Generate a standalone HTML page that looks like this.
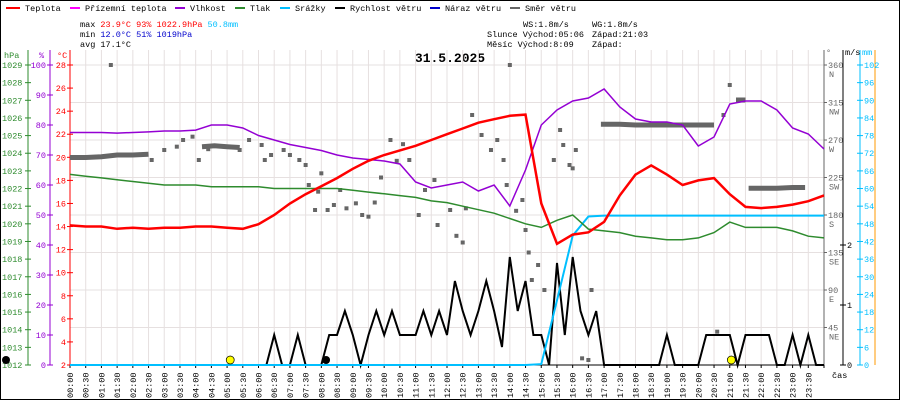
<!DOCTYPE html>
<html><head><meta charset="utf-8"><style>
html,body{margin:0;padding:0;background:#fff;}
svg{display:block;font-family:"Liberation Mono","DejaVu Sans Mono",monospace;font-size:8.5px;}
</style></head><body>
<svg id="chart" width="900" height="400" viewBox="0 0 900 400" xmlns="http://www.w3.org/2000/svg">
<rect x="0.5" y="0.5" width="899" height="399" fill="#fff" stroke="#000"/>
<g id="legend">
 <line x1="6" y1="8" x2="20" y2="8" stroke="#f00" stroke-width="2"/><text x="25" y="11">Teplota</text>
 <line x1="70" y1="8" x2="80" y2="8" stroke="#f0f" stroke-width="2"/><text x="85" y="11">Přízemní teplota</text>
 <line x1="175" y1="8" x2="185" y2="8" stroke="#9400d3" stroke-width="2"/><text x="190" y="11">Vlhkost</text>
 <line x1="235" y1="8" x2="245" y2="8" stroke="#2e8b2e" stroke-width="2"/><text x="250" y="11">Tlak</text>
 <line x1="280" y1="8" x2="290" y2="8" stroke="#00bfff" stroke-width="2"/><text x="295" y="11">Srážky</text>
 <line x1="335" y1="8" x2="345" y2="8" stroke="#000" stroke-width="2"/><text x="350" y="11">Rychlost větru</text>
 <line x1="430" y1="8" x2="440" y2="8" stroke="#00c" stroke-width="2"/><text x="445" y="11">Náraz větru</text>
 <line x1="510" y1="8" x2="520" y2="8" stroke="#666" stroke-width="2"/><text x="525" y="11">Směr větru</text>
</g>
<g>
 <text x="80" y="27">max <tspan fill="#f00">23.9°C  93%  1022.9hPa</tspan> <tspan fill="#00bfff">50.8mm</tspan></text>
 <text x="80" y="37">min <tspan fill="#00c">12.0°C  51%  1019hPa</tspan></text>
 <text x="80" y="47">avg 17.1°C</text>
 <text x="523" y="27">WS:1.8m/s</text><text x="592" y="27">WG:1.8m/s</text>
 <text x="487" y="37">Slunce Východ:05:06</text><text x="592" y="37">Západ:21:03</text>
 <text x="487" y="47">Měsíc  Východ:8:09</text><text x="592" y="47">Západ:</text>
</g>
<text x="450" y="62" text-anchor="middle" font-size="13" font-weight="bold">31.5.2025</text>
<g id="grid"></g>
<g id="axes"></g>
<g id="series"></g>
</svg>
<script>
const hours = [0,0.5,1,1.5,2,2.5,3,3.5,4,4.5,5,5.5,6,6.5,7,7.5,8,8.5,9,9.5,10,10.5,11,11.5,12,12.5,13,13.5,14,14.5,15,15.5,16,16.5,17,17.5,18,18.5,19,19.5,20,20.5,21,21.5,22,22.5,23,23.5,24];
const temperature = [14.1,14.0,14.0,13.8,13.9,13.8,13.9,13.9,14.0,14.0,13.9,13.8,14.2,15.0,16.0,16.8,17.5,18.2,19.0,19.7,20.2,20.6,21.0,21.5,22.0,22.5,23.0,23.3,23.6,23.7,16.0,12.5,13.3,13.5,14.4,16.7,18.5,19.3,18.5,17.6,18.0,18.2,16.8,15.7,15.6,15.7,15.9,16.2,16.7];
const humidity = [77.5,77.5,77.5,77.3,77.5,77.7,78,78,78.3,80,80,79,76.5,75,73.5,72.5,71.5,70,69,68.5,68,67,61,59,60,61,58,60,53,65,80,85,88,89,92,86,82,81,81,80,73,76,87,88,88,85,79,77,72];
const pressure = [1022.8,1022.7,1022.6,1022.5,1022.4,1022.3,1022.2,1022.2,1022.2,1022.1,1022.1,1022.1,1022.1,1022.0,1022.0,1022.0,1022.0,1022.0,1021.9,1021.8,1021.7,1021.6,1021.5,1021.3,1021.2,1021.0,1020.8,1020.6,1020.3,1020.0,1019.8,1020.2,1020.5,1019.7,1019.6,1019.5,1019.3,1019.2,1019.1,1019.1,1019.2,1019.5,1020.1,1019.8,1019.8,1019.8,1019.6,1019.3,1019.2];
const rain = [0,0,0,0,0,0,0,0,0,0,0,0,0,0,0,0,0,0,0,0,0,0,0,0,0,0,0,0,0,0,0.3,22,44,50.5,50.8,50.8,50.8,50.8,50.8,50.8,50.8,50.8,50.8,50.8,50.8,50.8,50.8,50.8,50.8];
// wind speed every 15 min (97 values)
const wind = [0,0,0,0,0,0,0,0,0,0,0,0,0,0,0,0,0,0,0,0,0,0,0,0,0,0,0.5,0,0,0.5,0,0,0,0.5,0.5,0.9,0.5,0,0.5,0.9,0.5,0.9,0.5,0.5,0.5,0.9,0.5,0.9,0.5,1.4,0.9,0.5,0.9,1.4,0.9,0.3,1.8,0.9,1.4,0.5,0.5,0,1.7,0.5,1.8,0.9,0.5,0.9,0,0,0,0,0,0,0,0,0.5,0,0,0,0,0.5,0.5,0.5,0.5,0,0.5,0.5,0.5,0.5,0,0,0.5,0,0.5,0,0];
const dirLineHours = [0,0.5,1,1.5,2,2.5,null,4.2,4.6,5,5.4,null,16.9,17.5,18,18.5,19,19.5,20,20.5,null,21.2,21.5,null,21.6,22,22.5,23,23.4];
const dirLineDeg = [249,249,250,252,252,253,null,262,263,262,261,null,289,289,288,288,288,288,288,288,null,318,318,null,212,212,212,213,213];
const dirPointHours = [1.3,2.6,3.0,3.4,3.6,3.9,4.1,4.4,5.4,5.7,6.1,6.2,6.4,6.8,7.0,7.3,7.5,7.6,7.8,7.9,8.0,8.2,8.4,8.6,8.8,9.1,9.3,9.5,9.7,9.9,10.2,10.4,10.6,10.8,11.1,11.3,11.6,11.7,12.1,12.3,12.5,12.6,12.8,13.1,13.4,13.6,13.8,13.9,14.0,14.2,14.4,14.5,14.6,14.7,14.9,15.1,15.4,15.6,15.7,15.9,16.0,16.1,16.3,16.5,16.6,20.6,20.8,21.0];
const dirPointDeg = [360,246,258,262,270,274,246,259,258,270,264,246,252,258,252,246,240,216,186,208,230,186,192,210,188,194,180,178,195,225,270,245,265,246,180,210,222,168,186,155,147,188,300,276,258,270,246,216,360,185,198,162,135,102,120,90,246,282,264,240,236,258,8,6,90,40,300,336];
const tickLabels = ["00:00","00:30","01:00","01:30","02:00","02:30","03:00","03:30","04:00","04:30","05:00","05:30","06:00","06:30","07:00","07:30","08:00","08:30","09:00","09:30","10:00","10:30","11:00","11:30","12:00","12:30","13:00","13:30","14:00","14:30","15:00","15:30","16:00","16:30","17:00","17:30","18:00","18:30","19:00","19:30","20:00","20:30","21:00","21:30","22:00","22:30","23:00","23:30"];
const tempTicks = [2,4,6,8,10,12,14,16,18,20,22,24,26,28];
const humTicks = [0,10,20,30,40,50,60,70,80,90,100];
const presTicks = [1012,1013,1014,1015,1016,1017,1018,1019,1020,1021,1022,1023,1024,1025,1026,1027,1028,1029];
const dirTicks = [45,90,135,180,225,270,315,360];
const dirNames = ["NE","E","SE","S","SW","W","NW","N"];
const windTicks = [0,1,2];
const rainTicks = [0,6,12,18,24,30,36,42,48,54,60,66,72,78,84,90,96,102];

const NS="http://www.w3.org/2000/svg";
const X0=70, X1=824, Y0=365, YT=65;
const X=h=>X0+h*(X1-X0)/24;
const yT=t=>Y0-(t-2)*300/26;
const yH=v=>Y0-v*3;
const yP=p=>Y0-(p-1012)*300/17;
const yD=d=>Y0-d*300/360;
const yW=v=>Y0-v*60;
const yR=m=>Y0-m*300/102;
function mk(tag,attrs,parent,text){const e=document.createElementNS(NS,tag);for(const k in attrs)e.setAttribute(k,attrs[k]);if(text!==undefined)e.textContent=text;parent.appendChild(e);return e;}
const grid=document.getElementById('grid'), axes=document.getElementById('axes'), series=document.getElementById('series');

for(let i=0;i<=48;i++){const x=X(i/2);
 const g=mk('line',{x1:x,y1:50,x2:x,y2:Y0,stroke:'#e6e0e0','stroke-width':1},grid);
 
 
 mk('line',{x1:x,y1:Y0,x2:x,y2:Y0+3,stroke:'#000'},axes);
 if(i<48){const t=mk('text',{x:0,y:0,transform:`translate(${x+3},398) rotate(-90)`},axes,tickLabels[i]);
 
 }
}
dirTicks.forEach((d,i)=>{const y=yD(d);
 const g=mk('line',{x1:X0,y1:y,x2:X1,y2:y,stroke:'#e6e0e0'},grid);
 
 
 mk('line',{x1:X1,y1:y,x2:X1+3,y2:y,stroke:'#666'},axes);
 const t=mk('text',{x:X1+4,y:y+3,fill:'#666'},axes,String(d));
 
 
 mk('text',{x:X1+5,y:y+12,fill:'#666'},axes,dirNames[i]);
});
// axis lines
mk('line',{x1:28,y1:50,x2:28,y2:Y0,stroke:'#2e8b2e'},axes);
mk('line',{x1:50,y1:50,x2:50,y2:Y0,stroke:'#9400d3'},axes);
mk('line',{x1:70,y1:50,x2:70,y2:Y0,stroke:'#f00'},axes);
mk('line',{x1:X1,y1:50,x2:X1,y2:Y0,stroke:'#666'},axes);
mk('line',{x1:843,y1:50,x2:843,y2:Y0,stroke:'#000'},axes);
mk('line',{x1:860,y1:50,x2:860,y2:Y0,stroke:'#00bfff'},axes);
mk('line',{x1:875,y1:50,x2:875,y2:Y0,stroke:'#f90'},axes);
mk('line',{x1:X0,y1:Y0,x2:X1,y2:Y0,stroke:'#000'},axes);
mk('text',{x:4,y:58,fill:'#2e8b2e'},axes,'hPa');
mk('text',{x:39,y:58,fill:'#9400d3'},axes,'%');
mk('text',{x:57,y:58,fill:'#f00'},axes,'°C');
mk('text',{x:826,y:55,fill:'#666'},axes,'°');
mk('text',{x:845,y:55},axes,'m/s');
mk('text',{x:862,y:55,fill:'#00bfff'},axes,'mm');
mk('text',{x:832,y:378},axes,'čas');
presTicks.forEach(p=>{const y=yP(p);mk('line',{x1:25,y1:y,x2:31,y2:y,stroke:'#2e8b2e'},axes);
 const t=mk('text',{x:2,y:y+3,fill:'#2e8b2e'},axes,String(p));
 
 });
humTicks.forEach(h=>{const y=yH(h);mk('line',{x1:47,y1:y,x2:53,y2:y,stroke:'#9400d3'},axes);
 const t=mk('text',{x:46,y:y+3,fill:'#9400d3','text-anchor':'end'},axes,String(h));
 
 });
tempTicks.forEach(v=>{const y=yT(v);mk('line',{x1:67,y1:y,x2:73,y2:y,stroke:'#f00'},axes);
 const t=mk('text',{x:66,y:y+3,fill:'#f00','text-anchor':'end'},axes,String(v));
 
 });
windTicks.forEach(v=>{const y=yW(v);mk('line',{x1:840,y1:y,x2:846,y2:y,stroke:'#000'},axes);
 const t=mk('text',{x:847,y:y+3},axes,String(v));
 
 });
rainTicks.forEach(v=>{const y=yR(v);mk('line',{x1:857,y1:y,x2:863,y2:y,stroke:'#00bfff'},axes);
 const t=mk('text',{x:864,y:y+3,fill:'#00bfff'},axes,String(v));
 
 });

function path(xs,ys,fx,fy){let d='',pen=false;for(let i=0;i<xs.length;i++){if(xs[i]===null){pen=false;continue;}d+=(pen?'L':'M')+fx(xs[i]).toFixed(1)+','+fy(ys[i]).toFixed(1);pen=true;}return d;}
// direction line and points
const dl=mk('path',{d:path(dirLineHours,dirLineDeg,X,yD),fill:'none',stroke:'#666','stroke-width':5},series);


dirPointHours.forEach((h,i)=>{const r=mk('rect',{x:X(h)-2,y:yD(dirPointDeg[i])-2,width:4,height:4,fill:'#666'},series);
 
 });
const wt=wind.map((_,i)=>i/4);
const wl=mk('path',{d:path(wt,wind,X,yW),fill:'none',stroke:'#000','stroke-width':2},series);


const rl=mk('path',{d:path(hours,rain,X,yR),fill:'none',stroke:'#00bfff','stroke-width':2},series);


const pl=mk('path',{d:path(hours,pressure,X,yP),fill:'none',stroke:'#2e8b2e','stroke-width':1.5},series);


const hl=mk('path',{d:path(hours,humidity,X,yH),fill:'none',stroke:'#9400d3','stroke-width':1.5},series);


const tl=mk('path',{d:path(hours,temperature,X,yT),fill:'none',stroke:'#f00','stroke-width':2.5},series);


// sun / moon markers
const s1=mk('circle',{cx:X(5.1),cy:360,r:4,fill:'#ff0',stroke:'#000','stroke-width':0.7},series);


const s2=mk('circle',{cx:X(21.05),cy:360,r:4,fill:'#ff0',stroke:'#000','stroke-width':0.7},series);


const m1=mk('circle',{cx:X(8.15),cy:360,r:4,fill:'#000'},series);


const m2=mk('circle',{cx:6,cy:360,r:4,fill:'#000'},series);


</script>
</body></html>
